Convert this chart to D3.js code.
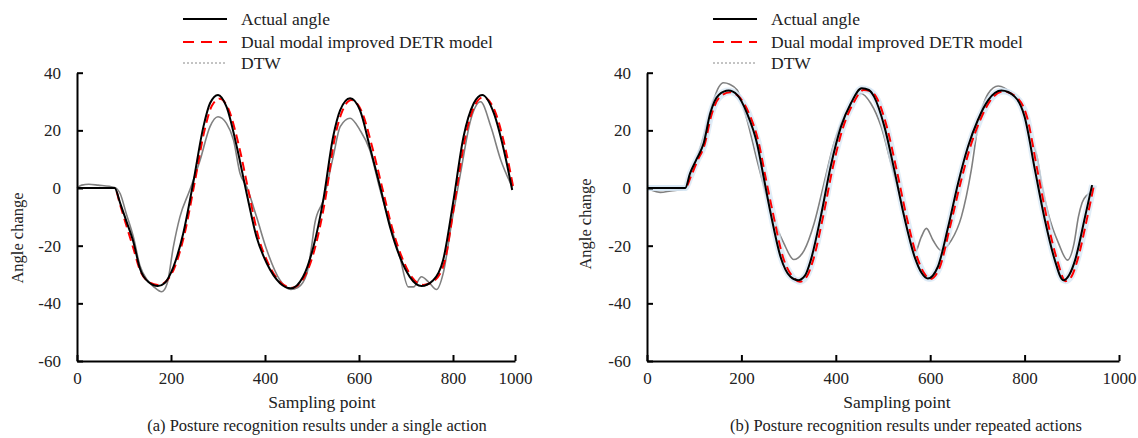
<!DOCTYPE html>
<html>
<head>
<meta charset="utf-8">
<script src="https://cdn.jsdelivr.net/npm/d3@7"></script>
<style>
  html, body { margin: 0; padding: 0; background: #fff; }
  svg { display: block; font-family: "Liberation Serif", "Times New Roman", serif; }
  .axis path, .axis line { stroke: #000; stroke-width: 2; }
  .axis text { font-family: "Liberation Serif", "Times New Roman", serif; font-size: 17px; fill: #222; }
</style>
</head>
<body>
<div id="chart"></div>
<script>
// series names
const seriesNames = ["Actual angle", "Dual modal improved DETR model", "DTW"];
const xTicks = [0, 200, 400, 600, 800, 1000];
const yTicks = [40, 20, 0, -20, -40, -60];
const captions = [
  "(a) Posture recognition results under a single action",
  "(b) Posture recognition results under repeated actions"
];

// (a) single action: [sampling point, angle]
const actualA = [[0,0],[80,0],[92,-5.3],[105,-11.5],[120,-18.7],[134,-28],[152,-32.6],[172,-34],[186,-33],[205,-27.4],[226,-15.8],[247,1.6],[269,21.3],[283,29.4],[300,32.3],[318,28.2],[340,14.3],[361,-1.9],[382,-17],[404,-26.2],[432,-33],[455,-34.8],[481,-30.8],[503,-20.4],[524,-4.2],[545,17.8],[560,27],[581,31.1],[602,27],[623,14.3],[645,0.4],[666,-13.5],[687,-23.9],[708,-30.8],[733,-34],[758,-32],[779,-25],[800,-5.3],[834,17.8],[867,29.4],[894,32.3],[932,25.9],[964,13.2],[991,-0.7]];
const modelA = [[0,0],[80,0],[92,-6],[105,-13],[120,-21],[134,-28.5],[152,-32.5],[172,-33.6],[188,-32.6],[208,-27.4],[229,-15.8],[250,1.6],[272,20.5],[287,28.5],[304,31],[322,27.5],[345,14.3],[366,-1.9],[386,-17],[407,-26.2],[435,-33],[458,-34.6],[484,-30.8],[507,-20.4],[528,-4.2],[549,17.8],[564,26.5],[584,30.5],[606,26.5],[628,14.3],[649,0.4],[670,-13.5],[691,-23.9],[712,-30.8],[737,-33.6],[761,-32],[783,-25],[805,-5.3],[840,17.8],[872,29],[898,31.5],[938,25.9],[970,13.2],[996,-0.7]];
const dtwA = [[0,0],[10,1],[25,1.3],[45,1],[80,0.2],[92,-2],[105,-9],[120,-17],[134,-27],[150,-32],[165,-34.5],[180,-36],[192,-33],[205,-20.4],[219,-10],[240,-0.7],[262,9.7],[283,21.3],[300,24.7],[318,22.4],[333,16.6],[347,5],[361,0.4],[382,-10],[404,-21.6],[432,-32],[455,-35.2],[470,-34.5],[489,-29.7],[499,-20.4],[506,-12.3],[524,-4.2],[545,10.8],[560,21.3],[581,24.2],[602,20.1],[623,13.2],[645,-0.7],[666,-12.3],[687,-23.9],[705,-34.3],[716,-34.3],[733,-30.8],[748,-32.6],[765,-35.2],[779,-29.7],[798,-11.1],[824,5],[857,23.6],[889,29.9],[922,21.3],[954,9.7],[991,0.4]];

// (b) repeated actions
const actualB = [[0,0],[81,0],[91,5],[105,10],[120,15.5],[134,25.9],[152,32.3],[173,33.8],[191,32.3],[212,25.9],[233,15.5],[247,3.9],[262,-8.8],[283,-23.9],[304,-30.8],[320,-32],[335,-30.3],[347,-25],[368,-10],[389,7.4],[411,21.3],[432,29.4],[455,34.6],[470,34],[481,31.7],[503,21.3],[524,6.2],[545,-10],[567,-23.9],[582,-29.5],[595,-31.4],[616,-27.4],[638,-13.5],[659,1.6],[680,14.3],[701,23.6],[723,30.5],[751,33.8],[779,31.7],[800,24.7],[822,6.2],[843,-11.1],[864,-25],[882,-32],[895,-30],[907,-25],[928,-10],[943,1]];
const modelB = [[0,0],[81,0],[93,4],[107,9.5],[122,15],[136,25],[154,31.5],[176,33.2],[194,31.8],[216,25.9],[237,15.5],[251,3.9],[267,-8.8],[288,-23.9],[309,-30.8],[324,-32.5],[339,-30.6],[352,-25],[373,-10],[394,7.4],[416,21.3],[437,29.4],[459,34],[475,33.5],[486,31.5],[508,21.3],[529,6.2],[550,-10],[572,-23.9],[587,-29.5],[600,-31.6],[620,-27.6],[642,-13.5],[664,1.6],[685,14.3],[706,23.6],[728,30.5],[755,33.5],[783,31.5],[805,24.7],[827,6.2],[848,-11.1],[869,-25],[887,-32.3],[900,-30.5],[912,-25],[933,-10],[947,1]];
const dtwB = [[0,0],[10,-0.8],[28,-1.5],[50,-1],[80,-0.3],[92,4],[105,10],[120,18],[140,30],[152,35],[162,36.5],[175,36],[191,34],[212,23.6],[233,9.7],[262,-7.6],[290,-19.2],[311,-24.8],[333,-21.6],[354,-12.3],[375,1.6],[396,15.5],[425,27],[453,32.8],[474,29.4],[496,21.3],[517,8.5],[538,-4.2],[556,-17],[567,-22.7],[581,-17],[592,-14],[606,-18.1],[623,-21.6],[645,-18.1],[666,-10],[687,6.2],[701,21.3],[723,32.8],[744,35.4],[772,32.8],[797,27],[808,20],[818,15],[826,11],[836,1.6],[850,-8.8],[872,-19.2],[891,-25],[905,-19],[914,-10],[922,-5],[932,-2.5],[943,-1.5]];

const width = 1138, height = 438;
const svg = d3.select("#chart").append("svg")
  .attr("width", width)
  .attr("height", height);

const y = d3.scaleLinear().domain([-60, 40]).range([361, 72.7]);

const panels = [
  {
    // left axis: last tick squeezed, as in the original figure
    x: d3.scaleLinear().domain([0, 800, 1000]).range([77, 453, 515]),
    series: [actualA, modelA, dtwA],
    halo: false,
    legendX: 183, titleX: 17, titleY: 238, xTitle: 322, caption: 317
  },
  {
    x: d3.scaleLinear().domain([0, 1000]).range([647, 1119]),
    series: [actualB, modelB, dtwB],
    halo: true,
    legendX: 713, titleX: 585, titleY: 224, xTitle: 897, caption: 906
  }
];

panels.forEach((p, i) => {
  const g = svg.append("g");
  const x = p.x;

  const line = d3.line()
    .x(d => x(d[0]))
    .y(d => y(d[1]))
    .curve(d3.curveMonotoneX);

  // DTW
  g.append("path")
    .attr("d", line(p.series[2]))
    .attr("fill", "none")
    .attr("stroke", "#808080")
    .attr("stroke-width", 1.6);

  if (p.halo) {
    [p.series[0], p.series[1]].forEach(s => {
      g.append("path")
        .attr("d", line(s))
        .attr("fill", "none")
        .attr("stroke", "#d4e5f4")
        .attr("stroke-width", 6)
        .attr("opacity", 0.7);
    });
  }

  // model
  g.append("path")
    .attr("d", line(p.series[1]))
    .attr("fill", "none")
    .attr("stroke", "#ff0000")
    .attr("stroke-width", 2)
    .attr("stroke-dasharray", "9,5");

  // actual
  g.append("path")
    .attr("d", line(p.series[0]))
    .attr("fill", "none")
    .attr("stroke", "#000")
    .attr("stroke-width", 2);

  // axes
  g.append("g")
    .attr("class", "axis")
    .attr("transform", `translate(0,${y(-60)})`)
    .call(d3.axisBottom(x)
      .tickValues(xTicks)
      .tickFormat(d => String(d))
      .tickSizeInner(-6)
      .tickSizeOuter(0)
      .tickPadding(11));

  g.append("g")
    .attr("class", "axis")
    .attr("transform", `translate(${x(0)},0)`)
    .call(d3.axisLeft(y)
      .tickValues(yTicks)
      .tickFormat(d => String(d))
      .tickSizeInner(-6)
      .tickSizeOuter(0)
      .tickPadding(16));

  g.selectAll(".axis .tick").filter(d => d === 0 || d === -60)
    .select("line").attr("stroke-width", 0);

  // axis titles
  g.append("text")
    .attr("transform", `translate(${p.titleX},${p.titleY}) rotate(-90)`)
    .attr("dy", "0.35em")
    .attr("text-anchor", "middle")
    .attr("font-size", 16.5)
    .attr("fill", "#222")
    .text("Angle change");

  g.append("text")
    .attr("x", p.xTitle)
    .attr("y", 408)
    .attr("text-anchor", "middle")
    .attr("font-size", 17.5)
    .attr("fill", "#222")
    .text("Sampling point");

  g.append("text")
    .attr("x", p.caption)
    .attr("y", 431)
    .attr("text-anchor", "middle")
    .attr("font-size", 16.5)
    .attr("fill", "#222")
    .text(captions[i]);

  // legend
  const legendRows = [19, 42, 63];
  const styles = [
    { stroke: "#000", width: 2, dash: null },
    { stroke: "#ff0000", width: 2, dash: "11,7" },
    { stroke: "#888", width: 1, dash: "2,2" }
  ];
  seriesNames.forEach((name, k) => {
    g.append("line")
      .attr("x1", p.legendX)
      .attr("x2", p.legendX + 44)
      .attr("y1", legendRows[k])
      .attr("y2", legendRows[k])
      .attr("stroke", styles[k].stroke)
      .attr("stroke-width", styles[k].width)
      .attr("stroke-dasharray", styles[k].dash);
    g.append("text")
      .attr("x", p.legendX + 58)
      .attr("y", legendRows[k])
      .attr("dy", "0.35em")
      .attr("font-size", 17.5)
      .attr("fill", "#222")
      .text(name);
  });
});
</script>
</body>
</html>
